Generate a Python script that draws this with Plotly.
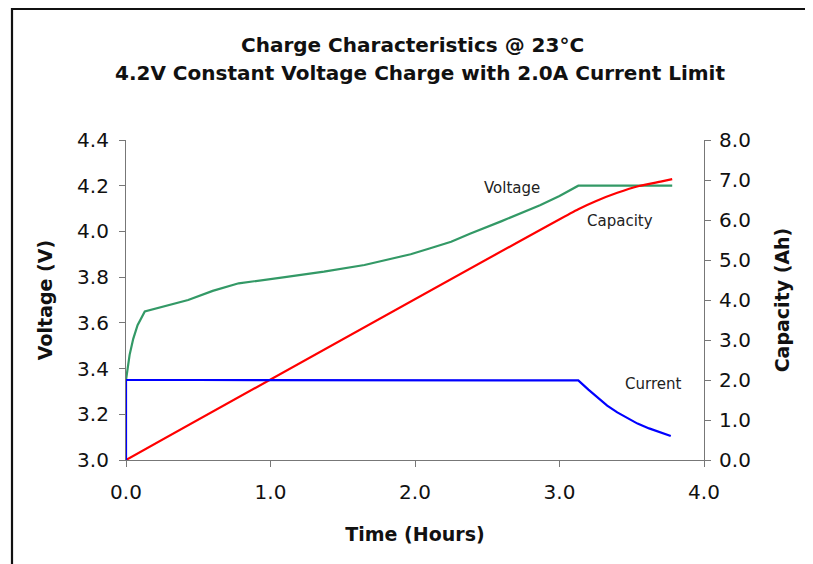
import plotly.graph_objects as go

# ---- data ----
time_voltage = [0, 0.01, 0.025, 0.05, 0.08, 0.13, 0.43, 0.6, 0.78, 1.1, 1.37, 1.65, 1.8, 1.97,
                2.1, 2.25, 2.38, 2.6, 2.865, 3.0, 3.13, 3.78]
voltage = [3.35, 3.40, 3.46, 3.53, 3.59, 3.65, 3.70, 3.74, 3.773, 3.80, 3.824, 3.853, 3.874, 3.90,
           3.925, 3.955, 3.99, 4.045, 4.115, 4.155, 4.20, 4.20]

time_capacity = [0, 3.13, 3.25, 3.40, 3.55, 3.70, 3.78]
capacity = [0, 6.27, 6.47, 6.68, 6.85, 6.96, 7.02]

time_current = [0, 0, 0.5, 1.0, 1.5, 2.0, 2.5, 3.0, 3.13, 3.2, 3.27, 3.33, 3.4, 3.47, 3.54, 3.62, 3.7, 3.77]
current = [0, 2.0, 2.0, 2.0, 2.0, 2.0, 2.0, 2.0, 1.99, 1.76, 1.55, 1.36, 1.19, 1.04, 0.91, 0.79, 0.68, 0.60]

x_ticks = [0, 1, 2, 3, 4]
y_ticks = [3.0, 3.2, 3.4, 3.6, 3.8, 4.0, 4.2, 4.4]
y2_ticks = [0, 1, 2, 3, 4, 5, 6, 7, 8]

title_lines = ["Charge Characteristics @ 23°C", "4.2V Constant Voltage Charge with 2.0A Current Limit"]

FONT = "DejaVu Sans, sans-serif"
GREEN = "#339966"
AXIS = "#777777"

fig = go.Figure()
fig.add_trace(go.Scatter(x=time_voltage, y=voltage, mode="lines", name="Voltage",
                         line=dict(color=GREEN, width=2.2), yaxis="y"))
fig.add_trace(go.Scatter(x=time_capacity, y=capacity, mode="lines", name="Capacity",
                         line=dict(color="#ff0000", width=2.2, shape="spline", smoothing=0.5), yaxis="y2"))
fig.add_trace(go.Scatter(x=time_current, y=current, mode="lines", name="Current",
                         line=dict(color="#0000ff", width=2.2), yaxis="y2"))

axis_common = dict(showgrid=False, zeroline=False, showline=True, linecolor=AXIS, linewidth=1.2,
                   ticks="outside", ticklen=6, tickcolor=AXIS, tickwidth=1.2,
                   tickfont=dict(family=FONT, size=20, color="#111"))

fig.update_layout(
    width=813, height=564,
    margin=dict(l=118, r=117, t=132, b=112),
    paper_bgcolor="white", plot_bgcolor="white",
    showlegend=False,
    font=dict(family=FONT),
    xaxis=dict(range=[0, 4], tickvals=x_ticks, ticktext=[f"{v:.1f}" for v in x_ticks],
               ticklabelstandoff=8,
               title=dict(text="<b>Time (Hours)</b>", font=dict(family=FONT, size=19, color="#111"), standoff=24),
               **axis_common),
    yaxis=dict(range=[3.0, 4.4], tickvals=y_ticks, ticktext=[f"{v:.1f}" for v in y_ticks],
               ticklabelstandoff=6,
               title=dict(text="<b>Voltage (V)</b>", font=dict(family=FONT, size=19, color="#111"), standoff=19),
               **axis_common),
    yaxis2=dict(range=[0, 8], tickvals=y2_ticks, ticktext=[f"{v:.1f}" for v in y2_ticks],
                overlaying="y", side="right", ticklabelstandoff=4,
                title=dict(text="<b>Capacity (Ah)</b>", font=dict(family=FONT, size=19, color="#111"), standoff=25),
                **axis_common),
)

# title (two lines)
fig.add_annotation(text="<b>" + title_lines[0] + "</b>", xref="paper", yref="paper",
                   x=0.4957, y=1.297, xanchor="center", yanchor="middle",
                   showarrow=False, font=dict(family=FONT, size=20, color="#111"))
fig.add_annotation(text="<b>" + title_lines[1] + "</b>", xref="paper", yref="paper",
                   x=0.5078, y=1.209, xanchor="center", yanchor="middle",
                   showarrow=False, font=dict(family=FONT, size=20, color="#111"))

# series labels
labels = [("Voltage", 2.67, 4.19, "y"), ("Capacity", 3.42, 5.97, "y2"), ("Current", 3.65, 1.9, "y2")]
for txt, xv, yv, yr in labels:
    fig.add_annotation(text=txt, x=xv, y=yv, xref="x", yref=yr, showarrow=False,
                       xanchor="center", yanchor="middle", font=dict(family=FONT, size=15, color="#222"))

# outer frame (top and left edges visible in the reference)
fig.add_shape(type="rect", xref="paper", yref="paper",
              x0=(4 - 118) / 578, x1=(840 - 118) / 578,
              y0=(452 - 620) / 320, y1=(452 - 1) / 320,
              line=dict(color="#111", width=2.2), layer="below")

fig.write_html("out.html")
